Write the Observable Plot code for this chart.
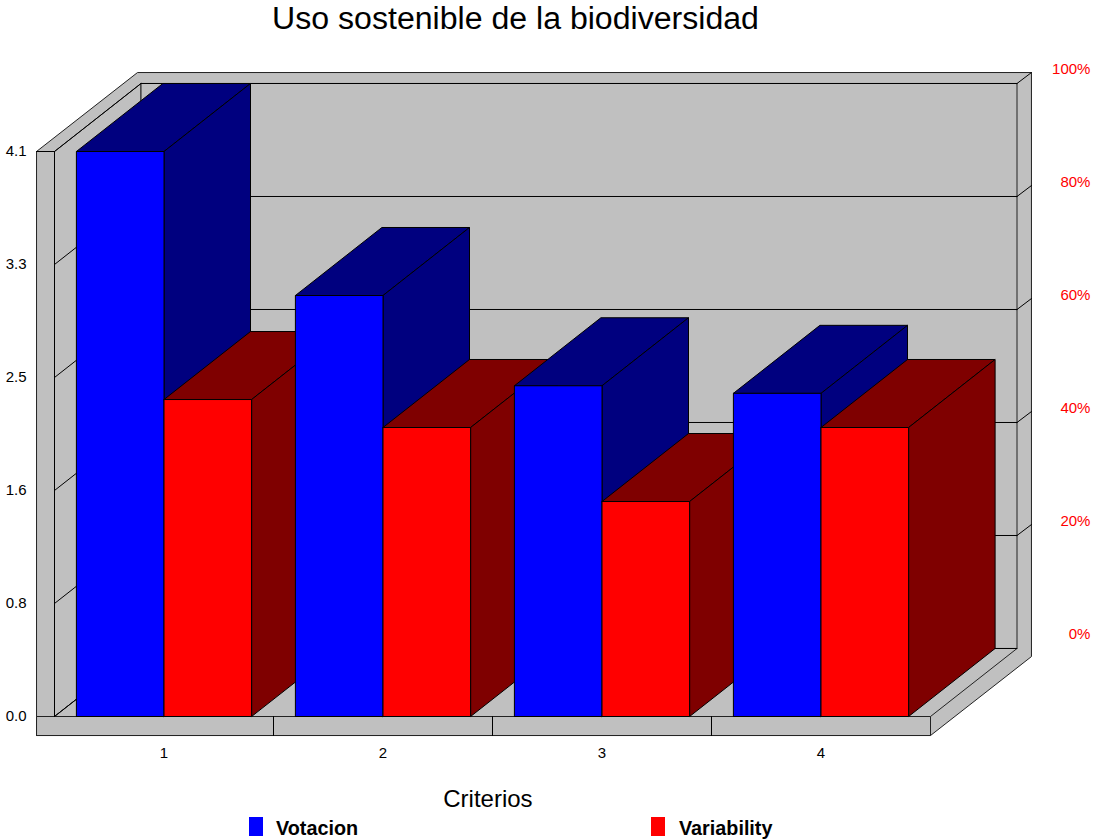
<!DOCTYPE html>
<html><head><meta charset="utf-8">
<script src="https://cdn.jsdelivr.net/npm/d3@7"></script>
<script src="https://cdn.jsdelivr.net/npm/@observablehq/plot@0.6"></script>
<style>
html,body{margin:0;padding:0;background:#fff;overflow:hidden}
body{font-family:"Liberation Sans",Arial,sans-serif;width:1093px;height:839px;position:relative}
#title{height:44px;line-height:36px;font-size:32.1px;width:1031px;text-align:center;color:#000;white-space:nowrap}
#legend{position:relative;height:27px}
#legend span{position:absolute;top:0}
.sw{width:14px;height:19px;top:5px!important}
.lb{font-weight:bold;font-size:19.8px;line-height:29px;top:2px!important;color:#000}
svg{display:block}
</style></head><body>
<div id="title">Uso sostenible de la biodiversidad</div>
<div id="chart"></div>
<div id="legend">
<span class="sw" style="left:249px;background:#0000ff"></span><span class="lb" style="left:276px">Votacion</span>
<span class="sw" style="left:651px;background:#ff0000"></span><span class="lb" style="left:679px">Variability</span>
</div>
<script>
const categories = [1, 2, 3, 4];
const votacion = [4.1, 3.055, 2.40, 2.345];
const variabilityPct = [56.1, 51.15, 38.05, 51.15];
const leftTicks = [0, 0.82, 1.64, 2.46, 3.28, 4.1];
const rightTicks = [0, 20, 40, 60, 80, 100];
const yMax = 4.1;

// projection of the pseudo-3D box, in data units
const depthX = 0.395, depthY = 0.4935;
const outerX = 0.461, outerY = 0.573;
const rimX = 0.082, rimY = 0.138;
const barHalf = 0.4;
const xL = 0.5, xR = 4.5;
const pctToY = p => p / 100 * yMax;

const faces = [];
let id = 0;
function poly(pts, color) { id++; pts.forEach(([x, y]) => faces.push({id, x, y, color})); }
function seg(a, b, list) { id++; [a, b].forEach(([x, y]) => list.push({id, x, y})); }

// outer case + walls
poly([[xL-rimX,yMax],[xL-rimX+outerX,yMax+outerY],[xR+outerX,yMax+outerY],[xR+outerX,-rimY+outerY],[xR,-rimY],[xL-rimX,-rimY],[xL-rimX,yMax]], "#c0c0c0");
poly([[xL,yMax],[xL+depthX,yMax+depthY],[xL+depthX,depthY],[xL,0],[xL,yMax]], "#c0c0c0");
poly([[xL+depthX,yMax+depthY],[xR+depthX,yMax+depthY],[xR+depthX,depthY],[xL+depthX,depthY],[xL+depthX,yMax+depthY]], "#c0c0c0");
poly([[xL,0],[xL+depthX,depthY],[xR+depthX,depthY],[xR,0],[xL,0]], "#c0c0c0");
poly([[xL-rimX,-rimY],[xR,-rimY],[xR,0],[xL-rimX,0],[xL-rimX,-rimY]], "#c0c0c0");

const lines = [];
seg([xL-rimX,yMax],[xL,yMax],lines);
seg([xL,0],[xL,yMax],lines);
leftTicks.forEach(v => {
  seg([xL,v],[xL+depthX,v+depthY],lines);
  seg([xL+depthX,v+depthY],[xR+depthX,v+depthY],lines);
  if (v > 0) seg([xR+depthX,v+depthY],[xR+outerX,v+outerY],lines);
});
categories.slice(0,3).forEach(c => seg([c+0.5,-rimY],[c+0.5,0],lines));

function bar(x0, x1, v, front, dark) {
  poly([[x0,v],[x1,v],[x1+depthX,v+depthY],[x0+depthX,v+depthY],[x0,v]], dark);
  poly([[x1,0],[x1+depthX,depthY],[x1+depthX,v+depthY],[x1,v],[x1,0]], dark);
  poly([[x0,0],[x1,0],[x1,v],[x0,v],[x0,0]], front);
}
categories.forEach((c,i) => {
  bar(c-barHalf, c, votacion[i], "#0000ff", "#00007f");
  bar(c, c+barHalf, pctToY(variabilityPct[i]), "#ff0000", "#7f0000");
});

const wallFaces = faces.filter(d => d.id <= 5);
const barFaces = faces.filter(d => d.id > 5);

const H = 768, marginT = 151-44, marginB = H-(716-44);
const font = 15;
const plot = Plot.plot({
  width: 1093, height: H,
  marginLeft: 54, marginRight: 163, marginTop: marginT, marginBottom: marginB,
  style: {fontFamily: '"Liberation Sans",Arial,sans-serif', background: "#fff", color: "#000", overflow: "visible"},
  x: {type: "linear", domain: [xL, xR]},
  y: {type: "linear", domain: [0, yMax]},
  color: {type: "identity"},
  marks: [
    Plot.line(wallFaces, {x:"x", y:"y", z:"id", fill:"color", stroke:"#222", strokeWidth:1, curve:"linear"}),
    Plot.line(lines, {x:"x", y:"y", z:"id", stroke:"#000", strokeWidth:1, curve:"linear"}),
    Plot.line(barFaces, {x:"x", y:"y", z:"id", fill:"color", stroke:"#000", strokeWidth:1, curve:"linear"}),
    Plot.axisY({ticks: leftTicks, tickFormat: d => d.toFixed(1), tickSize: 0, tickPadding: 28, fontSize: font, label: null}),
    Plot.axisX({ticks: categories, tickFormat: d => String(d), tickSize: 0, tickPadding: 31, fontSize: font, label: null}),
    Plot.text(rightTicks, {x: () => xR+outerX, y: d => pctToY(d)+depthY, text: d => d+"%", textAnchor:"end", dx:59, dy:-14, fill:"#ff0000", fontSize: font}),
    Plot.text(["Criterios"], {x: () => 2.479, y: () => -0.6, text: d => d, fontSize: 24, fill:"#000"})
  ]
});
document.getElementById("chart").appendChild(plot);
</script>
</body></html>
